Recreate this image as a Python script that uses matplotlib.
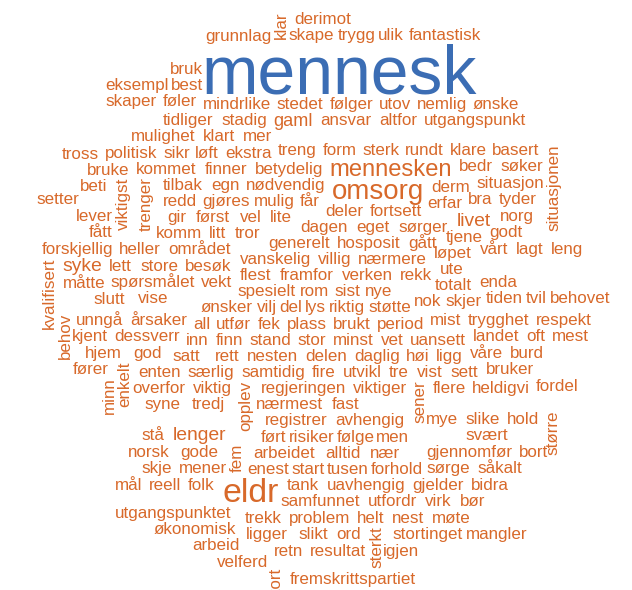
import numpy as np
import matplotlib
matplotlib.use("Agg")
import matplotlib.pyplot as plt
from matplotlib.textpath import TextPath
from matplotlib.font_manager import FontProperties

# word cloud: words grouped in reading order (top to bottom), weights set the size
# tokens "|word" / "<word" only tell the layout to continue beside / below an earlier word
rows = [
    ["klar", "derimot"],
    ["grunnlag", "|klar", "skape", "trygg", "ulik", "fantastisk"],
    ["<grunnlag", "mennesk"],
    ["bruk", "|mennesk"],
    ["eksempl", "best", "|mennesk"],
    ["<eksempl", "skaper", "føler", "mindrlike", "stedet", "følger", "utov", "nemlig", "ønske"],
    ["<føler", "tidliger", "stadig", "gaml", "ansvar", "altfor", "utgangspunkt"],
    ["mulighet", "klart", "mer", "|gaml"],
    ["tross", "politisk", "sikr", "løft", "ekstra", "treng", "form", "sterk", "rundt", "klare", "basert", "situasjonen"],
    ["bruke", "kommet", "finner", "betydelig", "mennesken", "bedr", "søker", "|situasjonen"],
    ["beti", "viktigst", "trenger", "tilbak", "egn", "nødvendig", "omsorg", "derm", "situasjon", "|situasjonen"],
    ["setter", "|beti", "|trenger", "redd", "gjøres", "mulig", "får", "deler", "fortsett", "erfar", "bra", "tyder", "|situasjonen"],
    ["lever", "|viktigst", "|trenger", "gir", "først", "vel", "lite", "dagen", "eget", "sørger", "livet", "norg", "|situasjonen"],
    ["fått", "|viktigst", "|trenger", "komm", "litt", "tror", "generelt", "hosposit", "gått", "tjene", "godt"],
    ["forskjellig", "heller", "området", "vanskelig", "villig", "nærmere", "løpet", "vårt", "lagt", "leng"],
    ["<forskjellig", "kvalifisert", "syke", "lett", "store", "besøk", "flest", "framfor", "verken", "rekk", "ute"],
    ["|kvalifisert", "måtte", "spørsmålet", "vekt", "spesielt", "rom", "sist", "nye", "|rekk", "totalt", "enda"],
    ["<måtte", "slutt", "vise", "<vekt", "ønsker", "vilj", "del", "lys", "riktig", "støtte", "nok", "skjer",
     "tiden", "tvil", "behovet"],
    ["|kvalifisert", "behov", "unngå", "årsaker", "all", "utfør", "fek", "plass", "brukt", "period", "mist", "trygghet", "respekt"],
    ["|behov", "kjent", "dessverr", "inn", "finn", "stand", "stor", "minst", "vet", "uansett", "landet", "oft", "mest"],
    ["|behov", "hjem", "god", "satt", "<finn", "rett", "nesten", "delen", "daglig", "høi", "ligg", "våre", "burd"],
    ["|behov", "fører", "enkelt", "enten", "særlig", "samtidig", "fire", "utvikl", "tre", "vist", "sett", "bruker"],
    ["minn", "|enkelt", "overfor", "viktig", "opplev", "regjeringen", "viktiger", "sener", "flere", "heldigvi", "fordel"],
    ["|enkelt", "syne", "tredj", "|opplev", "nærmest", "fast"],
    ["|opplev", "registrer", "avhengig", "|sener", "mye", "slike", "hold", "større"],
    ["|enkelt", "stå", "lenger", "|opplev", "ført", "risiker", "følge", "men", "|sener", "<slike", "svært"],
    ["|minn", "norsk", "gode", "fem", "arbeidet", "alltid", "nær", "|sener", "gjennomfør", "bort"],
    ["skje", "mener", "|fem", "enest", "start", "tusen", "forhold", "<gjennomfør", "sørge", "såkalt"],
    ["mål", "reell", "folk", "eldr", "tank", "uavhengig", "gjelder", "bidra"],
    ["<mål", "utgangspunktet", "|eldr", "samfunnet", "utfordr", "virk", "bør"],
    ["økonomisk", "trekk", "problem", "helt", "nest", "møte"],
    ["arbeid", "ligger", "<problem", "slikt", "ord", "sterkt", "<nest", "stortinget", "mangler"],
    ["velferd", "retn", "resultat", "|sterkt", "igjen"],
    ["|velferd", "stort", "fremskrittspartiet"],
]

# relative frequency of the larger words, all others use base_weight
big_words = ["mennesk", "eldr", "omsorg", "mennesken", "lenger", "syke", "livet", "gaml"]
big_weights = [60, 30, 24.5, 21, 17, 17, 17, 16]
base_weight = 15

vertical = ["klar", "situasjonen", "viktigst", "trenger", "kvalifisert", "behov", "enkelt",
            "opplev", "minn", "sener", "større", "fem", "sterkt", "stort"]

top_color = "#3b6db4"
word_color = "#d8692a"

# ---- layout ----
DPI = 100
W, H = 632, 590
PX_PER_WEIGHT = 1.13
CAP = 0.716
G = 3
GAP_Y = 4.0
FLOOR = 4
PMIN = 16.5
B0, P = 24, 16
CX, CY, RX, RY = 312, 300, 295, 300

fig = plt.figure(figsize=(W / DPI, H / DPI), dpi=DPI)
ax = fig.add_axes([0, 0, 1, 1])
ax.set_xlim(0, W)
ax.set_ylim(H, 0)
ax.axis("off")

prop = FontProperties(family="Liberation Sans")
weights = dict(zip(big_words, big_weights))
base_cap = CAP * base_weight * PX_PER_WEIGHT

info = {}
for row in rows:
    for tok in row:
        if tok[0] in "|<":
            continue
        px = PX_PER_WEIGHT * weights.get(tok, base_weight)
        e = TextPath((0, 0), tok, size=px, prop=prop).get_extents()
        vert = tok in vertical
        info[tok] = dict(px=px, x0=e.x0, x1=e.x1, y0=e.y0, y1=e.y1, vert=vert,
                         w=(e.y1 - e.y0) if vert else (e.x1 - e.x0),
                         cap=(e.x1 - e.x0) if vert else CAP * px)


def envelope(y):
    t = min(abs(y - CY) / RY, 0.995)
    half = RX * np.sqrt(1 - t * t)
    return CX - half, CX + half


def columns(L, R):
    return slice(max(int(L) + 2, 0), max(min(int(np.ceil(R)) - 1, W + 1), int(L) + 3))


placed = {}
sky = np.full(W + 2, -1e9)
prev_b = B0 - P
for row in rows:
    segs, anchors = [[]], []
    for tok in row:
        if tok[0] in "|<":
            anchors.append(tok)
            segs.append([])
        else:
            segs[-1].append(tok)
    envL, envR = envelope(prev_b + P - 6)
    xs = {}
    for k, seg in enumerate(segs):
        if not seg:
            continue
        la = anchors[k - 1] if k > 0 else None
        ra = anchors[k] if k < len(anchors) else None
        lo, hi = envL, envR
        if la:
            a = placed[la[1:]]
            lo = a[1] + G if la[0] == "|" else a[0]
        if ra:
            hi = placed[ra[1:]][0] - G
        ws = [info[w]["w"] for w in seg]
        n = len(seg)
        one_sided = bool(la) != bool(ra)
        if one_sided:
            gap = float(np.clip((hi - lo - sum(ws)) / (n + 1), 5, 9))
        elif la and ra:
            gap = float(np.clip((hi - lo - sum(ws)) / (n + 1), 2, 14))
        else:
            gap = float(np.clip((hi - lo - sum(ws)) / (n + 1), 2, 9))
        total = sum(ws) + gap * (n - 1)
        if la and not ra:
            x = lo
        elif ra and not la:
            x = hi - total
        elif la and ra and total > hi - lo:
            x = lo
        else:
            x = (lo + hi - total) / 2
        for w, wd in zip(seg, ws):
            xs[w] = x
            x += wd + gap

    above = {w: sky[columns(L, L + info[w]["w"])].max() for w, L in xs.items()}
    stacked = [above[w] + GAP_Y + info[w]["cap"] for w in xs
               if above[w] > -1e8 and not info[w]["vert"] and info[w]["px"] < 25]
    row_b = float(np.median(stacked)) if stacked else prev_b + P
    if row is not rows[0]:
        row_b = max(row_b, prev_b + PMIN)

    for w, L in xs.items():
        it = info[w]
        if it["vert"]:
            T = row_b - base_cap
            if above[w] > -1e8:
                T = max(above[w] + GAP_Y, T - FLOOR)
        else:
            B = row_b
            if above[w] > -1e8:
                B = max(above[w] + GAP_Y + it["cap"], row_b - FLOOR)
            T = B - it["cap"]
        R = L + it["w"]
        B = T + it["cap"]
        placed[w] = (L, R, T, B)
        sl = columns(L, R)
        sky[sl] = np.maximum(sky[sl], B)
        color = top_color if w == big_words[0] else word_color
        fs = it["px"] * 72 / DPI
        if it["vert"]:
            ax.text(L + it["y1"], T + it["x1"], w, rotation=90, rotation_mode="anchor",
                    ha="left", va="baseline", fontsize=fs, color=color, fontproperties=prop)
        else:
            ax.text(L - it["x0"], B, w, ha="left", va="baseline",
                    fontsize=fs, color=color, fontproperties=prop)
    prev_b = row_b

fig.savefig("out.png", dpi=DPI, facecolor="white")
